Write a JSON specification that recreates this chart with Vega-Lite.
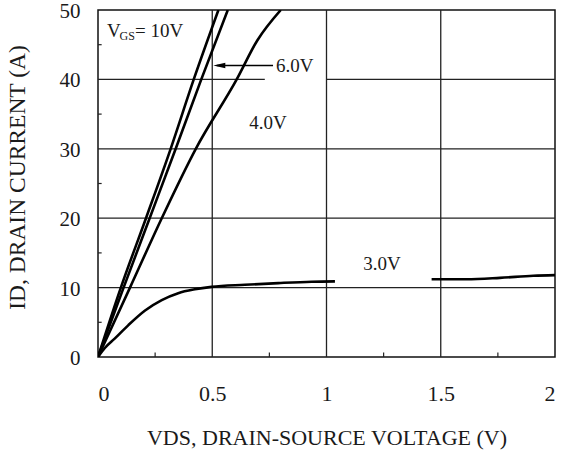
{
  "$schema": "https://vega.github.io/schema/vega-lite/v6.json",
  "width": 457,
  "height": 347,
  "autosize": "none",
  "padding": {"left": 98, "top": 10, "right": 6, "bottom": 94},
  "background": "white",
  "config": {
    "font": "Liberation Serif",
    "view": {"stroke": "#111", "strokeWidth": 1.5},
    "axis": {
      "labelFont": "Liberation Serif",
      "titleFont": "Liberation Serif",
      "labelColor": "#1a1a1a",
      "titleColor": "#1a1a1a",
      "titleFontWeight": "normal",
      "grid": false,
      "ticks": false,
      "tickSize": 0,
      "domain": false,
      "labelFontSize": 22,
      "titleFontSize": 22
    }
  },
  "datasets": {
    "grid": [
      {"x1": 0, "x2": 2, "y1": 10, "y2": 10},
      {"x1": 0, "x2": 2, "y1": 20, "y2": 20},
      {"x1": 0, "x2": 2, "y1": 30, "y2": 30},
      {"x1": 0, "x2": 0.73, "y1": 40, "y2": 40},
      {"x1": 1.0, "x2": 2, "y1": 40, "y2": 40},
      {"x1": 0.5, "x2": 0.5, "y1": 0, "y2": 50},
      {"x1": 1.0, "x2": 1.0, "y1": 0, "y2": 50},
      {"x1": 1.5, "x2": 1.5, "y1": 0, "y2": 50}
    ],
    "minor": [
      {"x1": 0, "x2": 0.016, "y1": 5, "y2": 5},
      {"x1": 0, "x2": 0.016, "y1": 15, "y2": 15},
      {"x1": 0, "x2": 0.016, "y1": 25, "y2": 25},
      {"x1": 0, "x2": 0.016, "y1": 35, "y2": 35},
      {"x1": 0, "x2": 0.016, "y1": 45, "y2": 45},
      {"x1": 0.25, "x2": 0.25, "y1": 0, "y2": 0.65},
      {"x1": 0.75, "x2": 0.75, "y1": 0, "y2": 0.65},
      {"x1": 1.25, "x2": 1.25, "y1": 0, "y2": 0.65},
      {"x1": 1.75, "x2": 1.75, "y1": 0, "y2": 0.65}
    ],
    "curves": [
      {"s": "10V", "vds": 0, "id": 0},
      {"s": "10V", "vds": 0.1, "id": 10},
      {"s": "10V", "vds": 0.21, "id": 20},
      {"s": "10V", "vds": 0.318, "id": 30},
      {"s": "10V", "vds": 0.419, "id": 40},
      {"s": "10V", "vds": 0.527, "id": 50},
      {"s": "6V", "vds": 0, "id": 0},
      {"s": "6V", "vds": 0.112, "id": 10},
      {"s": "6V", "vds": 0.226, "id": 20},
      {"s": "6V", "vds": 0.34, "id": 30},
      {"s": "6V", "vds": 0.452, "id": 40},
      {"s": "6V", "vds": 0.568, "id": 50},
      {"s": "4V", "vds": 0, "id": 0},
      {"s": "4V", "vds": 0.14, "id": 10},
      {"s": "4V", "vds": 0.279, "id": 20},
      {"s": "4V", "vds": 0.428, "id": 30},
      {"s": "4V", "vds": 0.607, "id": 40},
      {"s": "4V", "vds": 0.697, "id": 45.6},
      {"s": "4V", "vds": 0.8, "id": 50},
      {"s": "3Va", "vds": 0, "id": 0},
      {"s": "3Va", "vds": 0.03, "id": 1.3},
      {"s": "3Va", "vds": 0.073, "id": 2.65},
      {"s": "3Va", "vds": 0.133, "id": 4.6},
      {"s": "3Va", "vds": 0.206, "id": 6.7},
      {"s": "3Va", "vds": 0.279, "id": 8.2},
      {"s": "3Va", "vds": 0.351, "id": 9.2},
      {"s": "3Va", "vds": 0.424, "id": 9.75},
      {"s": "3Va", "vds": 0.497, "id": 10.1},
      {"s": "3Va", "vds": 0.643, "id": 10.4},
      {"s": "3Va", "vds": 0.789, "id": 10.65},
      {"s": "3Va", "vds": 0.935, "id": 10.85},
      {"s": "3Va", "vds": 1.037, "id": 10.9},
      {"s": "3Vb", "vds": 1.46, "id": 11.2},
      {"s": "3Vb", "vds": 1.613, "id": 11.2},
      {"s": "3Vb", "vds": 1.759, "id": 11.4},
      {"s": "3Vb", "vds": 1.905, "id": 11.7},
      {"s": "3Vb", "vds": 2.0, "id": 11.8}
    ],
    "labels": [
      {"t": "V", "x": 0.039, "y": 46.1},
      {"t": "= 10V", "x": 0.162, "y": 46.1},
      {"t": "6.0V", "x": 0.779, "y": 41.0},
      {"t": "4.0V", "x": 0.662, "y": 32.8},
      {"t": "3.0V", "x": 1.161, "y": 12.6}
    ],
    "sub": [
      {"t": "GS", "x": 0.094, "y": 45.7}
    ],
    "arrowLine": [
      {"x1": 0.52, "x2": 0.766, "y": 42}
    ],
    "arrowHead": [
      {"x": 0.531, "y": 42}
    ]
  },
  "layer": [
    {
      "data": {"name": "grid"},
      "mark": {"type": "rule", "color": "#222", "strokeWidth": 1.3},
      "encoding": {
        "x": {"field": "x1", "type": "quantitative", "scale": {"domain": [0, 2], "nice": false},
          "axis": {"values": [0, 0.5, 1, 1.5, 2], "format": "~g", "title": "VDS, DRAIN-SOURCE VOLTAGE (V)",
            "labelPadding": 36, "labelBaseline": "middle", "titleY": 80, "titleBaseline": "middle"}},
        "x2": {"field": "x2"},
        "y": {"field": "y1", "type": "quantitative", "scale": {"domain": [0, 50], "nice": false},
          "axis": {"values": [0, 10, 20, 30, 40, 50], "title": "ID, DRAIN CURRENT (A)", "titleFontSize": 23.5,
            "labelFontSize": 21, "labelOffset": 1.5,
            "labelPadding": 18, "titleX": -81, "titleY": 167, "titleBaseline": "middle", "titleAlign": "center"}},
        "y2": {"field": "y2"}
      }
    },
    {
      "data": {"name": "minor"},
      "mark": {"type": "rule", "color": "#222", "strokeWidth": 1.2},
      "encoding": {
        "x": {"field": "x1", "type": "quantitative"},
        "x2": {"field": "x2"},
        "y": {"field": "y1", "type": "quantitative"},
        "y2": {"field": "y2"}
      }
    },
    {
      "data": {"name": "curves"},
      "mark": {"type": "line", "color": "#000", "strokeWidth": 2.6, "interpolate": "monotone", "clip": true},
      "encoding": {
        "x": {"field": "vds", "type": "quantitative"},
        "y": {"field": "id", "type": "quantitative"},
        "detail": {"field": "s"}
      }
    },
    {
      "data": {"name": "arrowLine"},
      "mark": {"type": "rule", "color": "#000", "strokeWidth": 1.3},
      "encoding": {
        "x": {"field": "x1", "type": "quantitative"},
        "x2": {"field": "x2"},
        "y": {"field": "y", "type": "quantitative"}
      }
    },
    {
      "data": {"name": "arrowHead"},
      "mark": {"type": "point", "shape": "M -1 0 L 1 -0.45 L 1 0.45 Z", "size": 144, "filled": true, "color": "#000", "opacity": 1},
      "encoding": {
        "x": {"field": "x", "type": "quantitative"},
        "y": {"field": "y", "type": "quantitative"}
      }
    },
    {
      "data": {"name": "labels"},
      "mark": {"type": "text", "font": "Liberation Serif", "fontSize": 19, "align": "left", "baseline": "alphabetic", "color": "#1a1a1a"},
      "encoding": {
        "x": {"field": "x", "type": "quantitative"},
        "y": {"field": "y", "type": "quantitative"},
        "text": {"field": "t"}
      }
    },
    {
      "data": {"name": "sub"},
      "mark": {"type": "text", "font": "Liberation Serif", "fontSize": 12, "align": "left", "baseline": "alphabetic", "color": "#1a1a1a"},
      "encoding": {
        "x": {"field": "x", "type": "quantitative"},
        "y": {"field": "y", "type": "quantitative"},
        "text": {"field": "t"}
      }
    }
  ]
}
